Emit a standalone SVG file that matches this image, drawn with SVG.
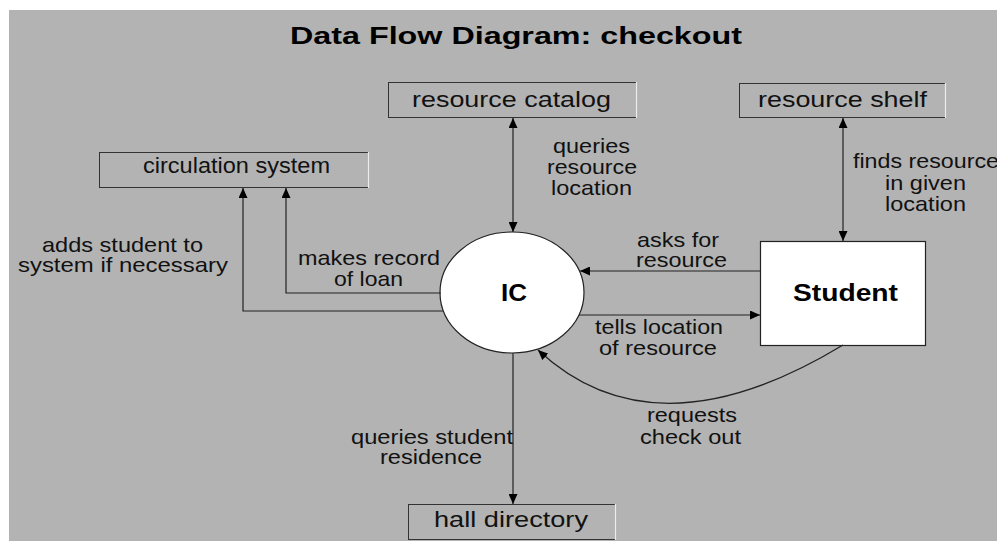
<svg xmlns="http://www.w3.org/2000/svg" width="997" height="541" viewBox="0 0 997 541">
  <style>
    .lbl { font-family: "Liberation Sans", Arial, sans-serif; font-size: 21px; fill: #111; }
    .store-txt { font-family: "Liberation Sans", Arial, sans-serif; font-size: 21.5px; fill: #111; }
    .bold { font-family: "Liberation Sans", Arial, sans-serif; font-weight: bold; fill: #000; }
    .store { fill: #b3b3b3; stroke: #333; stroke-width: 1; }
    .store-edge { stroke: #ececec; stroke-width: 1.2; }
    .flow { fill: none; stroke: #222; stroke-width: 1.2; }
  </style>
  <defs>
    <marker id="arrow" viewBox="0 0 10 9" refX="10" refY="4.5" markerWidth="10" markerHeight="9" markerUnits="userSpaceOnUse" orient="auto-start-reverse">
      <path d="M0,0 L10,4.5 L0,9 z" fill="#000"/>
    </marker>
  </defs>

  <!-- canvas -->
  <rect x="9" y="10" width="988" height="531" fill="#b3b3b3"/>

  <text class="bold" x="290" y="44" font-size="23" textLength="452" lengthAdjust="spacingAndGlyphs">Data Flow Diagram: checkout</text>

  <!-- data stores -->
  <g id="resource-catalog">
    <rect class="store" x="388.5" y="82.5" width="248" height="35"/>
    <line class="store-edge" x1="636.5" y1="82" x2="636.5" y2="118"/>
    <text class="store-txt" x="412" y="107" textLength="199" lengthAdjust="spacingAndGlyphs">resource catalog</text>
  </g>
  <g id="resource-shelf">
    <rect class="store" x="739.5" y="83.5" width="206" height="34"/>
    <line class="store-edge" x1="945.5" y1="83" x2="945.5" y2="118"/>
    <text class="store-txt" x="758" y="107" textLength="169" lengthAdjust="spacingAndGlyphs">resource shelf</text>
  </g>
  <g id="circulation-system">
    <rect class="store" x="99.5" y="152.5" width="269" height="35"/>
    <line class="store-edge" x1="368.5" y1="152" x2="368.5" y2="188"/>
    <text class="store-txt" x="143" y="173" font-size="19.5" textLength="187" lengthAdjust="spacingAndGlyphs">circulation system</text>
  </g>
  <g id="hall-directory">
    <rect class="store" x="408.5" y="504.5" width="207" height="35"/>
    <line class="store-edge" x1="615.5" y1="504" x2="615.5" y2="540"/>
    <text class="store-txt" x="434" y="527" textLength="154" lengthAdjust="spacingAndGlyphs">hall directory</text>
  </g>

  <!-- process -->
  <g id="ic">
    <ellipse cx="512" cy="292.5" rx="72" ry="60.5" fill="#fff" stroke="#222" stroke-width="1.2"/>
    <text class="bold" x="501" y="301" font-size="23" textLength="26" lengthAdjust="spacingAndGlyphs">IC</text>
  </g>

  <!-- external entity -->
  <g id="student">
    <rect x="760.5" y="241.5" width="165" height="104" fill="#fff" stroke="#222" stroke-width="1.2"/>
    <text class="bold" x="793" y="301" font-size="23" textLength="105" lengthAdjust="spacingAndGlyphs">Student</text>
  </g>

  <!-- data flows -->
  <g id="connectors">
    <line class="flow" x1="513" y1="118" x2="513" y2="232" marker-start="url(#arrow)" marker-end="url(#arrow)"/>
    <line class="flow" x1="843" y1="118" x2="843" y2="241" marker-start="url(#arrow)" marker-end="url(#arrow)"/>
    <line class="flow" x1="760" y1="271" x2="580" y2="271" marker-end="url(#arrow)"/>
    <line class="flow" x1="579" y1="315" x2="760" y2="315" marker-end="url(#arrow)"/>
    <polyline class="flow" points="441,293 286,293 286,188" marker-end="url(#arrow)"/>
    <polyline class="flow" points="443,311 243,311 243,188" marker-end="url(#arrow)"/>
    <line class="flow" x1="513" y1="353" x2="513" y2="504" marker-end="url(#arrow)"/>
    <path class="flow" d="M843,345 Q655,459 538,350" marker-end="url(#arrow)"/>
  </g>

  <!-- flow labels -->
  <g id="labels">
    <text class="lbl" x="553" y="153" textLength="77" lengthAdjust="spacingAndGlyphs">queries</text>
    <text class="lbl" x="547" y="174" textLength="90" lengthAdjust="spacingAndGlyphs">resource</text>
    <text class="lbl" x="551" y="195" textLength="81" lengthAdjust="spacingAndGlyphs">location</text>

    <text class="lbl" x="853" y="168" textLength="146" lengthAdjust="spacingAndGlyphs">finds resource</text>
    <text class="lbl" x="885" y="190" textLength="81" lengthAdjust="spacingAndGlyphs">in given</text>
    <text class="lbl" x="885" y="211" textLength="81" lengthAdjust="spacingAndGlyphs">location</text>

    <text class="lbl" x="637" y="247" textLength="82" lengthAdjust="spacingAndGlyphs">asks for</text>
    <text class="lbl" x="636" y="267" textLength="91" lengthAdjust="spacingAndGlyphs">resource</text>

    <text class="lbl" x="595" y="334" textLength="128" lengthAdjust="spacingAndGlyphs">tells location</text>
    <text class="lbl" x="599" y="355" textLength="118" lengthAdjust="spacingAndGlyphs">of resource</text>

    <text class="lbl" x="647" y="422" textLength="90" lengthAdjust="spacingAndGlyphs">requests</text>
    <text class="lbl" x="640" y="444" textLength="101" lengthAdjust="spacingAndGlyphs">check out</text>

    <text class="lbl" x="351" y="444" textLength="162" lengthAdjust="spacingAndGlyphs">queries student</text>
    <text class="lbl" x="380" y="464" textLength="102" lengthAdjust="spacingAndGlyphs">residence</text>

    <text class="lbl" x="42" y="252" textLength="161" lengthAdjust="spacingAndGlyphs">adds student to</text>
    <text class="lbl" x="18" y="272" textLength="210" lengthAdjust="spacingAndGlyphs">system if necessary</text>

    <text class="lbl" x="298" y="265" textLength="142" lengthAdjust="spacingAndGlyphs">makes record</text>
    <text class="lbl" x="334" y="286" textLength="69" lengthAdjust="spacingAndGlyphs">of loan</text>
  </g>
</svg>
